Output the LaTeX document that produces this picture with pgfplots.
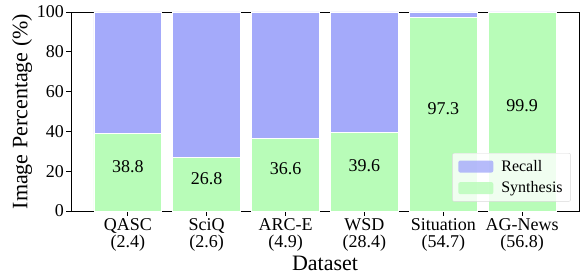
\documentclass[border=0pt]{standalone}
\usepackage{pgfplots}
\pgfplotsset{compat=1.18}
\usepackage{fontspec}
\setmainfont{Liberation Serif}
\definecolor{recall}{RGB}{164,170,250}
\definecolor{synth}{RGB}{184,252,184}
\begin{document}
\begin{tikzpicture}
\begin{axis}[
  scale only axis,
  width=508pt, height=199pt,
  ybar stacked, bar width=0.86,
  xmin=-0.72, xmax=5.72,
  ymin=0, ymax=100,
  xtick={0,1,2,3,4,5},
  xticklabels={{QASC\\(2.4)},{SciQ\\(2.6)},{ARC-E\\(4.9)},{WSD\\(28.4)},{Situation\\(54.7)},{AG-News\\(56.8)}},
  xticklabel style={align=center, font=\fontsize{18}{17.5}\selectfont, yshift=0.5pt},
  ytick={0,20,40,60,80,100},
  yticklabel style={font=\fontsize{18}{20}\selectfont, xshift=1pt},
  /pgf/number format/assume math mode=true,
  tick align=outside,
  xtick pos=bottom, ytick pos=left,
  major tick length=4.5pt,
  tick style={line width=0.8pt, black},
  xlabel={Dataset}, ylabel={Image Percentage (\%)},
  every axis x label/.style={at={([yshift=-52.5pt]axis description cs:0.5,0)}, anchor=center, inner sep=0pt, font=\fontsize{22}{24}\selectfont},
  every axis y label/.style={at={([xshift=-49pt]axis description cs:0,0.5)}, rotate=90, anchor=center, inner sep=0pt, font=\fontsize{22}{24}\selectfont},
  axis line style={line width=0.8pt},
  legend cell align=left,
  reverse legend,
  legend style={at={(0.984,0.047)}, anchor=south east, font=\fontsize{16}{18}\selectfont,
    draw=black!15, rounded corners=2pt, fill=white, fill opacity=0.8, text opacity=1,
    inner xsep=6pt, inner ysep=5pt, row sep=5pt, column sep=6pt},
  legend image code/.code={\fill[#1, draw=none] (0pt,-6pt) rectangle (35pt,6pt);},
]
\addplot[fill=synth, draw=white, line width=0.6pt] coordinates {(0,38.8) (1,26.8) (2,36.6) (3,39.6) (4,97.3) (5,99.9)};
\addplot[fill=recall, draw=white, line width=0.6pt] coordinates {(0,61.2) (1,73.2) (2,63.4) (3,60.4) (4,2.7) (5,0.1)};
\legend{Synthesis, Recall}
\end{axis}
\begin{axis}[
  scale only axis,
  width=508pt, height=199pt,
  xmin=-0.72, xmax=5.72, ymin=0, ymax=100,
  axis lines=none,
  nodes near coords, point meta=explicit symbolic,
  nodes near coords style={font=\fontsize{18}{20}\selectfont, anchor=center},
]
\addplot[only marks, mark=none] table[meta=l] {
x y l
0 22.4 38.8
1 16.4 26.8
2 21.3 36.6
3 22.8 39.6
4 51.6 97.3
5 53.0 99.9
};
\end{axis}
\pgfresetboundingbox
\useasboundingbox (-71pt,-65pt) rectangle (512pt,211pt);
\end{tikzpicture}
\end{document}
